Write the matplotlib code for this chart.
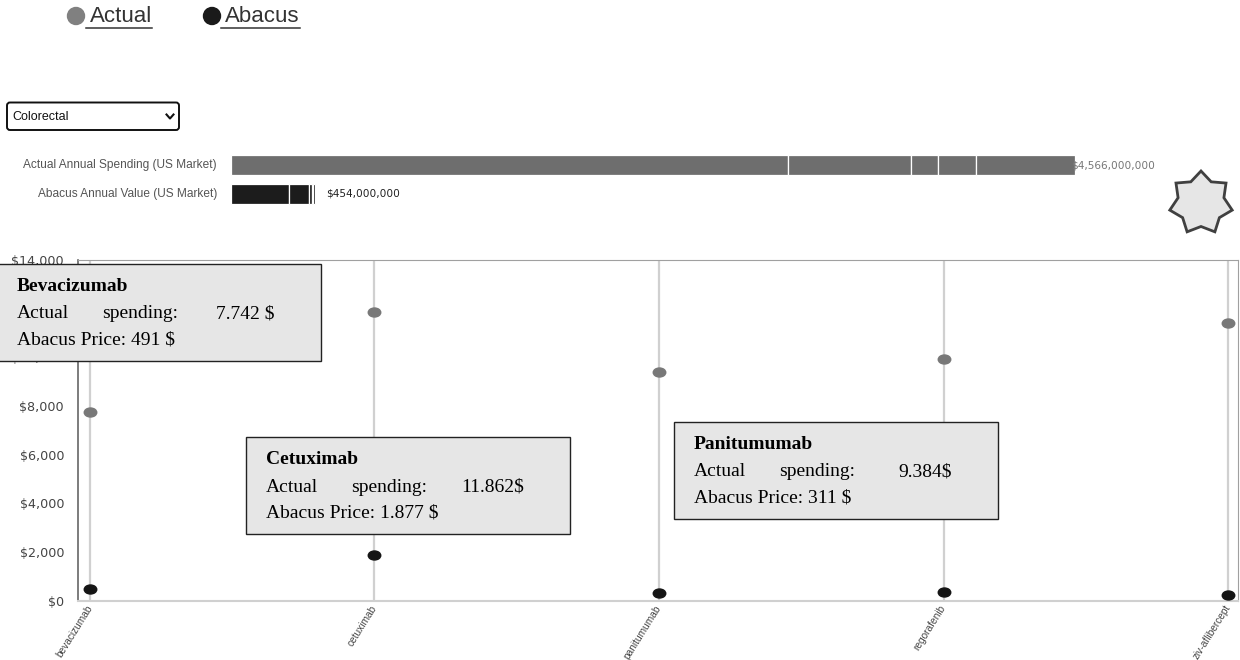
"""Colorectal drugs: actual spending vs Abacus value, dot chart with totals bar."""
import numpy as np
import matplotlib
matplotlib.use('Agg')
import matplotlib.pyplot as plt
from matplotlib.patches import Rectangle, FancyBboxPatch, Polygon, Circle
from matplotlib.path import Path

W, H = 1240, 660

drugs = ['bevacizumab', 'cetuximab', 'panitumumab', 'regorafenib', 'ziv-aflibercept']
actual_price = [7742, 11862, 9384, 9910, 11400]
abacus_price = [491, 1877, 311, 340, 230]
y_ticks = [0, 2000, 4000, 6000, 8000, 10000, 12000, 14000]

# annual US market totals, split by drug ($ millions)
actual_parts = [3013, 665, 146, 206, 536]
abacus_parts = [312, 110, 15, 9, 8]

# tooltips that are open in the screenshot
tip_idx = [0, 1, 2]
tip_names = ['Bevacizumab', 'Cetuximab', 'Panitumumab']
tip_unit = [' $', '$', '$']

GRAY = '#787878'
DARK = '#151515'


def fbox(x0, y0, x1, y1):
    # pixel box (origin top-left) -> figure rect
    return [x0 / W, 1 - y1 / H, (x1 - x0) / W, (y1 - y0) / H]


def dots(v):
    return f'{v:,}'.replace(',', '.')


fig = plt.figure(figsize=(W / 100, H / 100), dpi=100)

# main dot chart
ax = fig.add_axes(fbox(78, 260, 1238, 600.5))
x = np.arange(len(drugs))
for xi in x:
    ax.axvline(xi, color='#d0d0d0', lw=1.6, zorder=1)
circ = Path.unit_circle()
ell = Path(circ.vertices * [1, 0.72], circ.codes)
ax.plot(x, actual_price, ls='none', marker=ell, ms=9, color=GRAY, mec=GRAY, zorder=3, clip_on=False)
ax.plot(x, abacus_price, ls='none', marker=ell, ms=9, color=DARK, mec=DARK, zorder=3, clip_on=False)
ax.set_xlim(-0.042, 4.035)
ax.set_ylim(0, 14000)
ax.set_yticks(y_ticks)
ax.set_yticklabels([f'${v:,}' for v in y_ticks])
ax.set_xticks(x)
ax.set_xticklabels(drugs, rotation=58, ha='right', va='center', rotation_mode='anchor',
                   fontsize=7.3, family='Liberation Sans', color='#444')
ax.tick_params(length=0)
ax.tick_params(axis='y', pad=10, labelsize=9.2, labelcolor='#444')
ax.tick_params(axis='x', pad=4)
ax.spines['left'].set_color('#666')
ax.spines['left'].set_linewidth(1.2)
ax.spines['top'].set_color('#a0a0a0')
ax.spines['right'].set_color('#a0a0a0')
ax.spines['bottom'].set_color('#d0d0d0')
ax.spines['bottom'].set_linewidth(1.5)

# annual totals bar
bx = fig.add_axes(fbox(231, 150.5, 1075, 208.5))
bx.set_xlim(0, sum(actual_parts))
bx.set_ylim(1.5, -0.5)
bx.axis('off')
for row, parts, color in [(0, actual_parts, '#6e6e6e'), (1, abacus_parts, '#1c1c1c')]:
    left = np.concatenate([[0], np.cumsum(parts)[:-1]])
    bx.barh(row, parts, left=left, height=0.7, color=color, edgecolor='white', linewidth=0.9)
bx.annotate(f'${sum(actual_parts) * 1_000_000:,}', xy=(sum(actual_parts), 0), xytext=(-3, 0),
            textcoords='offset points', va='center', ha='left', fontsize=7.6, color='#777',
            annotation_clip=False)
bx.annotate(f'${sum(abacus_parts) * 1_000_000:,}', xy=(sum(abacus_parts), 1), xytext=(8, 0),
            textcoords='offset points', va='center', ha='left', fontsize=7.6, color='#222',
            annotation_clip=False)

# overlay in pixel coordinates: legend, dropdown, labels, tooltips, star
ov = fig.add_axes([0, 0, 1, 1], zorder=10)
ov.set_xlim(0, W)
ov.set_ylim(H, 0)
ov.axis('off')
ov.patch.set_alpha(0)

ov.add_patch(Circle((76, 16), 8.5, color='#808080'))
ov.add_patch(Circle((212, 16), 8.5, color='#1a1a1a'))
leg = [ov.text(90, 17, 'Actual', fontsize=16, family='Liberation Sans', color='#333', va='center'),
       ov.text(225, 17, 'Abacus', fontsize=16, family='Liberation Sans', color='#333', va='center')]
fig.canvas.draw()
inv = ov.transData.inverted()
for t in leg:
    bb = t.get_window_extent()
    (x0, _), (x1, _) = inv.transform([(bb.x0, 0), (bb.x1, 0)])
    ov.plot([x0 - 4, x1], [27.5, 27.5], color='#333', lw=1.1)

ov.add_patch(FancyBboxPatch((7, 102.5), 172, 27.5, boxstyle='round,pad=0,rounding_size=3',
                            fc='white', ec='#111', lw=1.4))
ov.text(12, 117, 'Colorectal', fontsize=9, family='Liberation Sans', color='#111', va='center')
ov.plot([166.5, 170, 173.5], [114.5, 118.5, 114.5], color='#111', lw=1.5)

ov.text(217, 165, 'Actual Annual Spending (US Market)', ha='right', va='center',
        fontsize=8.6, family='Liberation Sans', color='#555')
ov.text(217, 194, 'Abacus Annual Value (US Market)', ha='right', va='center',
        fontsize=8.6, family='Liberation Sans', color='#555')

# seven-point star
cx, cy, R, r = 1201, 203, 32, 23.5
ang = np.pi / 2 + np.arange(14) * np.pi / 7
rad = np.where(np.arange(14) % 2 == 0, R, r)
ov.add_patch(Polygon(np.column_stack([cx + rad * np.cos(ang), cy - rad * np.sin(ang)]),
                     closed=True, fc='#e6e6e6', ec='#404040', lw=2))

# tooltips
tip_pos = [(-3, 264), (246, 437), (674, 422)]
for k, i in enumerate(tip_idx):
    bx0, by0 = tip_pos[k]
    ov.add_patch(Rectangle((bx0, by0), 324, 97, fc='#e6e6e6', ec='#222', lw=1))
    serif = dict(family='Liberation Serif', fontsize=14, color='black', va='center')
    ov.text(bx0 + 20, by0 + 22.5, tip_names[k], fontweight='bold', **serif)
    ov.text(bx0 + 20, by0 + 50, 'Actual', **serif)
    ov.text(bx0 + 105, by0 + 50, 'spending:', **serif)
    ov.text(bx0 + 278, by0 + 50, dots(actual_price[i]) + tip_unit[k], ha='right', **serif)
    ov.text(bx0 + 20, by0 + 76, f'Abacus Price: {dots(abacus_price[i])} $', **serif)

fig.savefig('out.png', dpi=100)
